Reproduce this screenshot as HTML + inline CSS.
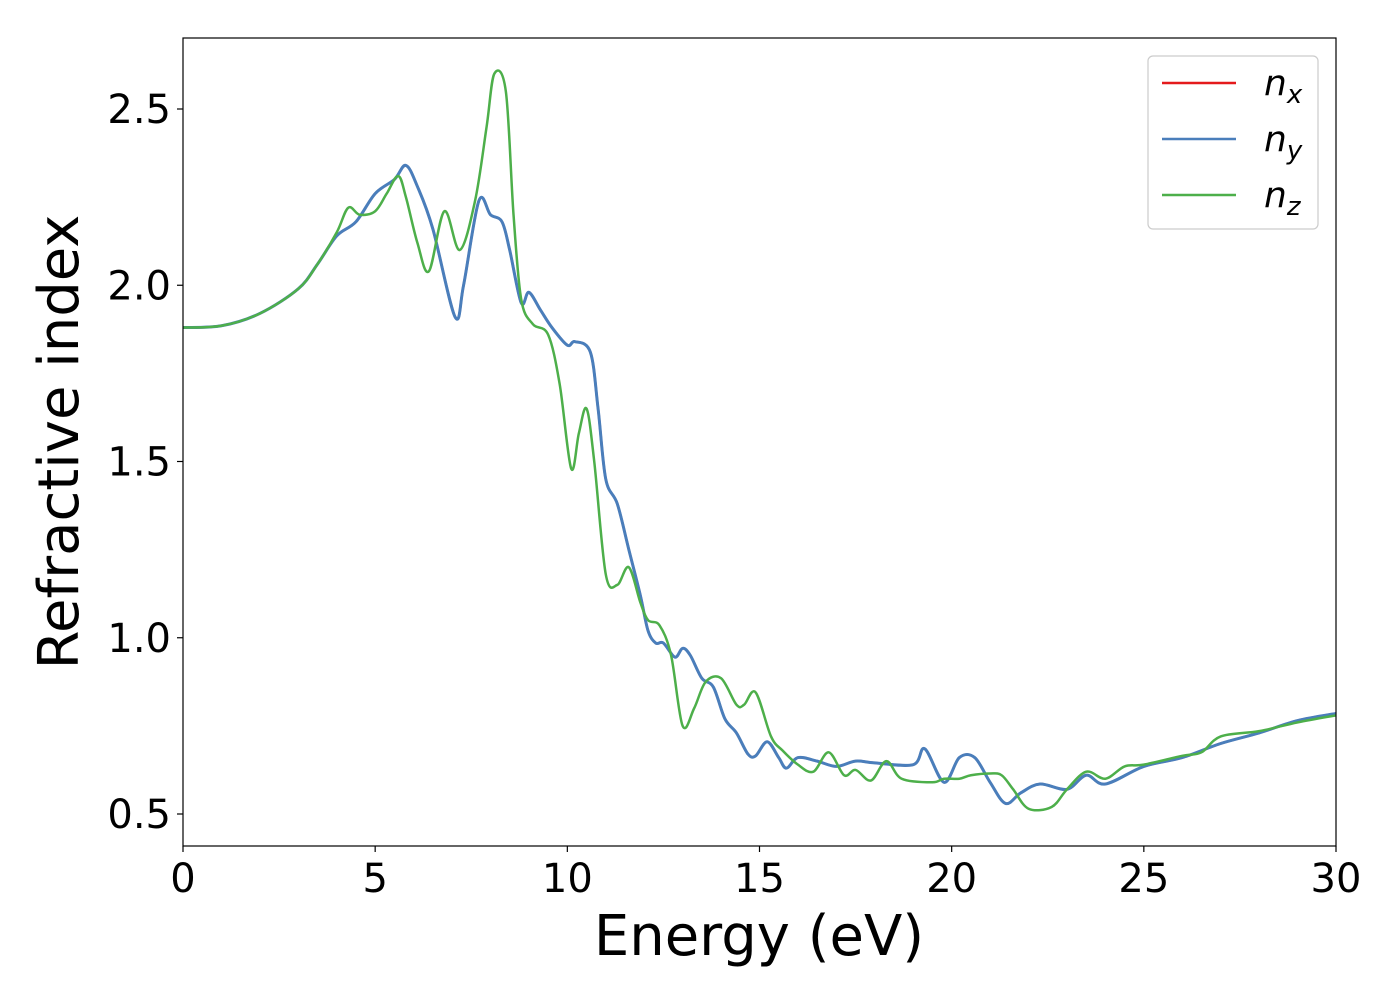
<!DOCTYPE html>
<html><head><meta charset="utf-8"><style>
html,body{margin:0;padding:0;background:#fff;}
svg{display:block;font-family:"DejaVu Sans","Liberation Sans",sans-serif;}
</style></head><body>
<svg id="chart" width="1400" height="1000">
<g id="plot"></g>
</svg>
<script>
const energies_x = [0,1,2,3,3.5,4,4.5,5,5.5,5.8,6.1,6.5,7.08,7.3,7.7,8.0,8.3,8.5,8.8,9.0,9.3,9.6,10.0,10.2,10.6,10.8,11.0,11.3,11.6,11.9,12.1,12.3,12.5,12.8,13.0,13.2,13.5,13.8,14.1,14.4,14.7,14.9,15.2,15.5,15.7,16.0,16.5,17,17.5,18,19,19.3,19.8,20.2,20.6,21.0,21.4,21.8,22.3,23,23.5,24,25,26,27,28,29,30];
const values_nx = [1.88,1.885,1.92,1.99,2.06,2.14,2.18,2.26,2.30,2.34,2.28,2.16,1.91,2.0,2.24,2.20,2.18,2.1,1.95,1.98,1.93,1.88,1.83,1.84,1.81,1.65,1.45,1.38,1.25,1.12,1.02,0.985,0.985,0.945,0.97,0.95,0.885,0.86,0.77,0.73,0.67,0.665,0.705,0.66,0.63,0.66,0.65,0.635,0.65,0.645,0.64,0.685,0.59,0.66,0.66,0.59,0.53,0.56,0.585,0.57,0.61,0.585,0.635,0.66,0.70,0.73,0.765,0.785];
const values_ny = values_nx.slice();
const energies_z = [0,1,2,3,3.5,4,4.3,4.6,5,5.3,5.6,5.8,6.1,6.4,6.8,7.2,7.6,7.9,8.1,8.4,8.6,8.8,9.1,9.5,9.8,10.1,10.3,10.5,10.7,11.0,11.3,11.6,11.9,12.1,12.4,12.7,13.0,13.3,13.6,14.0,14.4,14.6,14.9,15.3,15.6,16.0,16.4,16.8,17.2,17.5,17.9,18.3,18.7,19.5,19.8,20.2,20.5,21,21.3,21.6,22.0,22.6,23,23.5,24,24.5,25,26,26.5,27,28,29,30];
const values_nz = [1.88,1.885,1.92,1.99,2.06,2.15,2.22,2.20,2.21,2.26,2.31,2.25,2.12,2.04,2.21,2.10,2.24,2.45,2.60,2.55,2.2,1.96,1.89,1.86,1.72,1.48,1.58,1.65,1.50,1.18,1.15,1.20,1.10,1.05,1.035,0.95,0.75,0.80,0.875,0.885,0.81,0.81,0.845,0.72,0.68,0.64,0.62,0.675,0.61,0.625,0.595,0.65,0.60,0.59,0.60,0.60,0.61,0.615,0.61,0.57,0.515,0.52,0.57,0.62,0.60,0.635,0.64,0.665,0.675,0.72,0.735,0.76,0.78];
const xticks = [0,5,10,15,20,25,30];
const yticks = [0.5,1.0,1.5,2.0,2.5];
const ytickLabels = ["0.5","1.0","1.5","2.0","2.5"];

const L=183,R=1336,T=38,B=846;
const xScale = e => L + (e-0)/(30-0)*(R-L);
const yScale = n => 814 - (n-0.5)*352.5;
const NS="http://www.w3.org/2000/svg";
const svg=document.getElementById('chart');
const g=document.getElementById('plot');
function mk(tag,attrs,parent){const el=document.createElementNS(NS,tag);for(const k in attrs)el.setAttribute(k,attrs[k]);(parent||svg).appendChild(el);return el;}

function pathFor(xs,ys){
  const p=xs.map((x,i)=>[xScale(x),yScale(ys[i])]);
  let d=`M${p[0][0]},${p[0][1]}`;
  for(let i=0;i<p.length-1;i++){
    const p0=p[Math.max(0,i-1)],p1=p[i],p2=p[i+1],p3=p[Math.min(p.length-1,i+2)];
    const c1=[p1[0]+(p2[0]-p0[0])/6,p1[1]+(p2[1]-p0[1])/6];
    const c2=[p2[0]-(p3[0]-p1[0])/6,p2[1]-(p3[1]-p1[1])/6];
    d+=`C${c1[0]},${c1[1]} ${c2[0]},${c2[1]} ${p2[0]},${p2[1]}`;
  }
  return d;
}
const clip=mk('clipPath',{id:'clp'});mk('rect',{x:L,y:T,width:R-L,height:B-T},clip);

const lx=mk('path',{d:pathFor(energies_x,values_nx),fill:'none',stroke:'#e41a1c','stroke-width':2.5,'clip-path':'url(#clp)'},g);


const ly=mk('path',{d:pathFor(energies_x,values_ny),fill:'none',stroke:'#4a7ebb','stroke-width':3,'clip-path':'url(#clp)'},g);


const lz=mk('path',{d:pathFor(energies_z,values_nz),fill:'none',stroke:'#4daf4a','stroke-width':2.5,'clip-path':'url(#clp)'},g);



const frame=mk('rect',{x:L,y:T,width:R-L,height:B-T,fill:'none',stroke:'#000','stroke-width':1.2});



xticks.forEach(v=>{
  const x=xScale(v);
  mk('line',{x1:x,x2:x,y1:B,y2:B+6,stroke:'#000','stroke-width':1.2});
  const t=mk('text',{x:x,y:B+46,'font-size':40,'text-anchor':'middle'});t.textContent=v;
  
  
});
yticks.forEach((v,i)=>{
  const y=yScale(v);
  mk('line',{x1:L-6,x2:L,y1:y,y2:y,stroke:'#000','stroke-width':1.2});
  const t=mk('text',{x:L-12,y:y+14,'font-size':40,'text-anchor':'end'});t.textContent=ytickLabels[i];
  
  
});
const xl=mk('text',{x:759,y:955,'font-size':56,'text-anchor':'middle'});xl.textContent='Energy (eV)';


const yl=mk('text',{x:0,y:0,'font-size':56,'text-anchor':'middle',transform:'translate(78,442) rotate(-90)'});yl.textContent='Refractive index';



const lg=mk('g',{});


mk('rect',{x:1148,y:56,width:170,height:173,rx:5,fill:'#fff',stroke:'#ccc','stroke-width':1.2},lg);
const legendNames=['x','y','z'],legendColors=['#e41a1c','#4a7ebb','#4daf4a'];
legendNames.forEach((s,i)=>{
  const y=83+i*56;
  const e=mk('g',{},lg);
  
  
  mk('line',{x1:1162,x2:1236,y1:y,y2:y,stroke:legendColors[i],'stroke-width':2.5},e);
  const t=mk('text',{x:1264,y:y+12,'font-size':36,'font-style':'italic'},e);
  t.textContent='n';
  const sb=mk('tspan',{'font-size':26,dy:8},t);sb.textContent=s;
});
</script>
</body></html>
